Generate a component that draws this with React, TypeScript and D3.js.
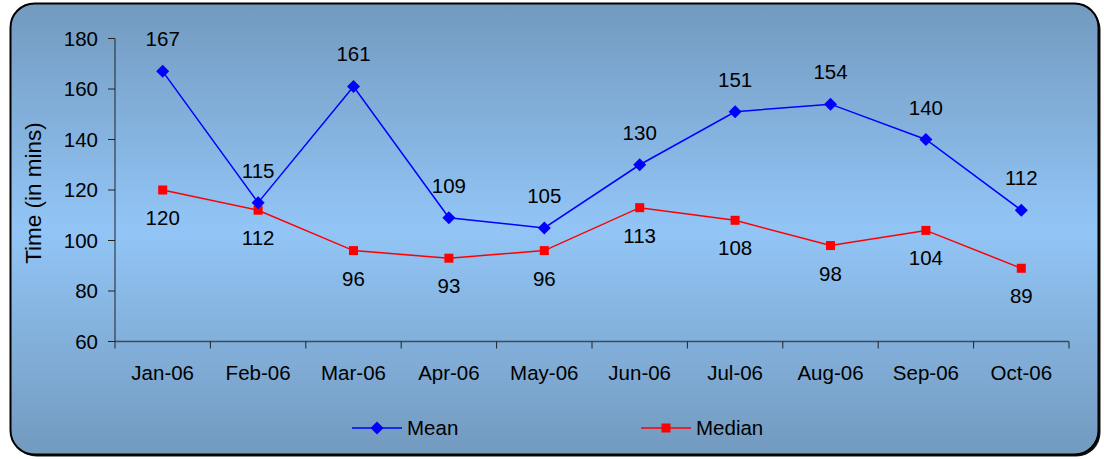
import React from "react";
import { scaleBand, scaleLinear, line } from "d3";

const months = ["Jan-06", "Feb-06", "Mar-06", "Apr-06", "May-06", "Jun-06", "Jul-06", "Aug-06", "Sep-06", "Oct-06"];
const meanValues = [167, 115, 161, 109, 105, 130, 151, 154, 140, 112];
const medianValues = [120, 112, 96, 93, 96, 113, 108, 98, 104, 89];
const yTicks = [60, 80, 100, 120, 140, 160, 180];

const width = 1104;
const height = 459;
const font = "'Liberation Sans', Arial, sans-serif";
const fs = 20.5;

const App = () => {
  const plot = { left: 115, right: 1069, top: 38.5, bottom: 341.5 };

  const xScale = scaleBand<string>().domain(months).range([plot.left, plot.right]);
  const yScale = scaleLinear().domain([60, 180]).range([plot.bottom, plot.top]);
  const cx = (m: string) => (xScale(m) ?? 0) + xScale.bandwidth() / 2;

  const lineGen = line<number>()
    .x((_, i) => cx(months[i]))
    .y(d => yScale(d));

  return (
    <div style={{ position: "absolute", left: 0, top: 0 }}>
      <svg width={width} height={height} style={{ display: "block" }}>
        <defs>
          <linearGradient id="bg" x1="0" y1="0" x2="0" y2="1">
            <stop offset="0%" stopColor="#739abf" />
            <stop offset="50%" stopColor="#92c5f6" />
            <stop offset="100%" stopColor="#739abf" />
          </linearGradient>
        </defs>
        {/* shadow + panel */}
        <rect x={12.5} y={5.5} width={1088} height={451} rx={24} fill="#111" />
        <rect x={10.5} y={3.5} width={1088} height={451} rx={24} fill="url(#bg)" stroke="#000" strokeWidth={2} />

        {/* y axis */}
        <line x1={plot.left} x2={plot.left} y1={plot.top} y2={plot.bottom} stroke="#222" />
        {yTicks.map(t => (
          <g key={t} transform={`translate(0, ${yScale(t)})`}>
            <line x1={plot.left - 7} x2={plot.left} stroke="#222" />
            <text x={plot.left - 17} dy="0.35em" textAnchor="end" fontFamily={font} fontSize={fs} fill="#000">{t}</text>
          </g>
        ))}
        <text transform={`translate(41, ${(plot.top + plot.bottom) / 2 + 3}) rotate(-90)`} textAnchor="middle"
          fontFamily={font} fontSize={22.5} fill="#000">Time (in mins)</text>

        {/* x axis */}
        <line x1={plot.left} x2={plot.right} y1={plot.bottom} y2={plot.bottom} stroke="#3a4a5a" strokeWidth={1.5} />
        {months.concat([""]).map((m, i) => {
          const x = i < months.length ? (xScale(m) ?? 0) : plot.right;
          return <line key={i} x1={x} x2={x} y1={plot.bottom} y2={plot.bottom + 7} stroke="#222" />;
        })}
        {months.map(m => (
          <text key={m} x={cx(m)} y={plot.bottom + 38.5} textAnchor="middle" fontFamily={font} fontSize={fs} fill="#000">{m}</text>
        ))}

        {/* median series */}
        <path d={lineGen(medianValues) ?? ""} fill="none" stroke="#ff0000" strokeWidth={1.5} />
        {medianValues.map((v, i) => (
          <g key={i}>
            <rect x={cx(months[i]) - 4.5} y={yScale(v) - 4.5} width={9} height={9} fill="#ff0000" />
            <text x={cx(months[i])} y={yScale(v) + 35} textAnchor="middle" fontFamily={font} fontSize={fs} fill="#000">{v}</text>
          </g>
        ))}

        {/* mean series */}
        <path d={lineGen(meanValues) ?? ""} fill="none" stroke="#0000ff" strokeWidth={1.5} />
        {meanValues.map((v, i) => (
          <g key={i}>
            <path d={`M${cx(months[i])},${yScale(v) - 6.5}l6.5,6.5l-6.5,6.5l-6.5,-6.5z`} fill="#0000ff" />
            <text x={cx(months[i])} y={yScale(v) - 25} textAnchor="middle" fontFamily={font} fontSize={fs} fill="#000">{v}</text>
          </g>
        ))}

        {/* legend */}
        <g transform="translate(352, 428)">
          <line x1={0} x2={50} stroke="#0000ff" strokeWidth={1.5} />
          <path d="M25,-6.5l6.5,6.5l-6.5,6.5l-6.5,-6.5z" fill="#0000ff" />
          <text x={55} dy="0.35em" fontFamily={font} fontSize={fs} fill="#000">Mean</text>
        </g>
        <g transform="translate(641, 428)">
          <line x1={0} x2={50} stroke="#ff0000" strokeWidth={1.5} />
          <rect x={20.5} y={-4.5} width={9} height={9} fill="#ff0000" />
          <text x={55} dy="0.35em" fontFamily={font} fontSize={fs} fill="#000">Median</text>
        </g>
      </svg>
    </div>
  );
};

export default App;
